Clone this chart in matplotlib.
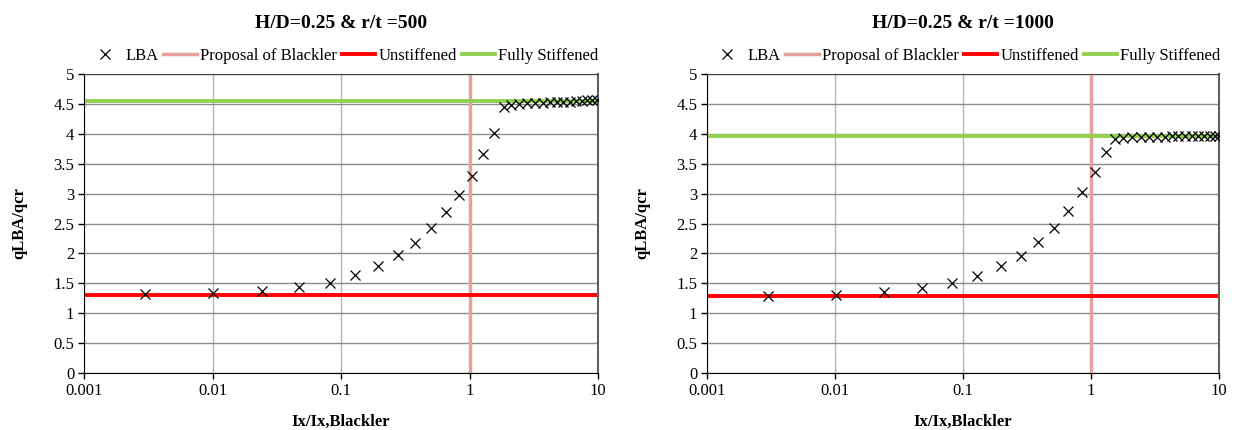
import matplotlib

matplotlib.use("Agg")
import matplotlib.pyplot as plt
from matplotlib.ticker import FixedLocator, FixedFormatter

plt.rcParams["font.family"] = ["Liberation Serif", "DejaVu Serif"]

# r/t = 500
x_500 = [0.0030, 0.0101, 0.0244, 0.0471, 0.0817, 0.1285, 0.195, 0.276, 0.377, 0.499,
         0.656, 0.824, 1.05, 1.27, 1.55, 1.85, 2.09, 2.44, 2.82, 3.24, 3.71, 4.23,
         4.77, 5.37, 6.05, 6.74, 7.47, 8.26, 9.03, 9.77]
y_500 = [1.32, 1.33, 1.37, 1.43, 1.51, 1.64, 1.79, 1.97, 2.17, 2.42,
         2.69, 2.98, 3.30, 3.66, 4.02, 4.44, 4.48, 4.50, 4.51, 4.52, 4.52, 4.53,
         4.53, 4.54, 4.54, 4.55, 4.55, 4.56, 4.56, 4.57]
unstiff_500 = 1.30
full_500 = 4.55

# r/t = 1000
x_1000 = [0.0030, 0.0101, 0.0243, 0.0475, 0.0826, 0.129, 0.197, 0.282, 0.384, 0.514,
          0.666, 0.851, 1.07, 1.30, 1.54, 1.79, 2.08, 2.44, 2.85, 3.29, 3.79, 4.27,
          4.81, 5.42, 6.12, 6.89, 7.67, 8.51, 9.31, 10.0]
y_1000 = [1.29, 1.30, 1.35, 1.42, 1.50, 1.62, 1.79, 1.96, 2.19, 2.42,
          2.71, 3.02, 3.36, 3.70, 3.92, 3.93, 3.94, 3.94, 3.95, 3.95, 3.95, 3.96,
          3.96, 3.96, 3.96, 3.97, 3.97, 3.97, 3.97, 3.97]
unstiff_1000 = 1.29
full_1000 = 3.97

blackler_x = 1.0
titles = ["H/D=0.25 & r/t =500", "H/D=0.25 & r/t =1000"]
x_ticks = [0.001, 0.01, 0.1, 1, 10]
x_tick_labels = ["0.001", "0.01", "0.1", "1", "10"]
y_ticks = [0, 0.5, 1, 1.5, 2, 2.5, 3, 3.5, 4, 4.5, 5]
y_tick_labels = ["0", "0.5", "1", "1.5", "2", "2.5", "3", "3.5", "4", "4.5", "5"]


def draw_panel(ax, xs, ys, unstiff, full, title):
    ax.set_xscale("log")
    ax.set_xlim(0.001, 10)
    ax.set_ylim(0, 5)
    ax.xaxis.set_major_locator(FixedLocator(x_ticks))
    ax.xaxis.set_major_formatter(FixedFormatter(x_tick_labels))
    ax.xaxis.set_minor_locator(FixedLocator([]))
    ax.yaxis.set_major_locator(FixedLocator(y_ticks))
    ax.yaxis.set_major_formatter(FixedFormatter(y_tick_labels))
    ax.grid(axis="x", color="#b4b4b4", linewidth=1.0)
    ax.grid(axis="y", color="#8c8c8c", linewidth=1.0)
    ax.set_axisbelow(True)

    ax.axvline(blackler_x, color="#e6a0a0", linewidth=2.5, label="Proposal of Blackler", zorder=2)
    ax.axhline(unstiff, color="#ff0000", linewidth=2.8, label="Unstiffened", zorder=2)
    ax.axhline(full, color="#92d050", linewidth=2.8, label="Fully Stiffened", zorder=2)
    ax.plot(xs, ys, linestyle="none", marker="x", color="black", markersize=7,
            markeredgewidth=0.9, label="LBA", zorder=3)

    for side in ["left", "bottom"]:
        ax.spines[side].set_color("black")
    ax.spines["top"].set_color("#404040")
    ax.spines["right"].set_color("#606060")
    ax.spines["right"].set_linewidth(1.5)
    ax.tick_params(axis="both", labelsize=12, length=4, width=1, color="black", pad=3)

    ax.set_title(title, fontsize=14, fontweight="bold", pad=33)
    ax.set_xlabel("Ix/Ix,Blackler", fontsize=12, fontweight="bold", labelpad=11)
    ax.set_ylabel("qLBA/qcr", fontsize=12, fontweight="bold", labelpad=19)

    handles, labels = ax.get_legend_handles_labels()
    order = [3, 0, 1, 2]
    ax.legend([handles[i] for i in order], [labels[i] for i in order],
              loc="lower center", bbox_to_anchor=(0.505, 1.0), ncol=4, frameon=False,
              fontsize=12, handlelength=2.0, handletextpad=0.2, columnspacing=0.3,
              borderaxespad=0.2)


fig = plt.figure(figsize=(12.41, 4.30), dpi=100)
ax1 = fig.add_axes([84 / 1241, 57 / 430, 514 / 1241, 299 / 430])
ax2 = fig.add_axes([707 / 1241, 57 / 430, 512 / 1241, 299 / 430])

draw_panel(ax1, x_500, y_500, unstiff_500, full_500, titles[0])
draw_panel(ax2, x_1000, y_1000, unstiff_1000, full_1000, titles[1])

fig.savefig("out.png", dpi=100)
